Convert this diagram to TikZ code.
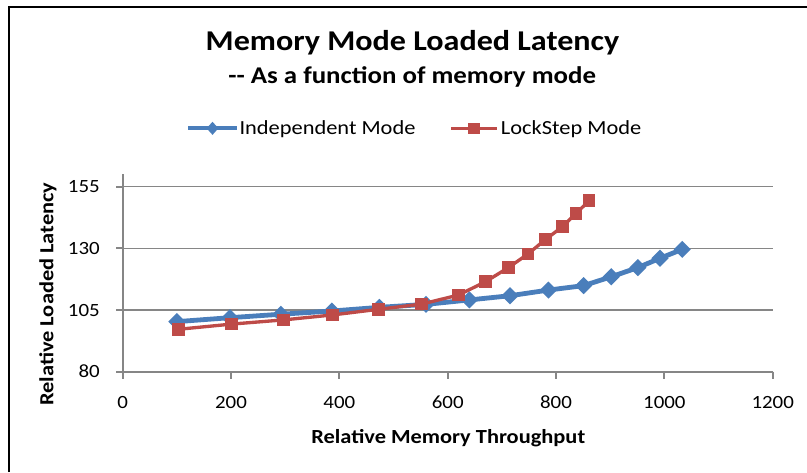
\documentclass[tikz,border=0pt]{standalone}
\usepackage{fontspec}
\setmainfont{Carlito}[FakeStretch=1.12]
\usetikzlibrary{shapes.geometric}

\definecolor{seriesblue}{HTML}{4A7EBB}
\definecolor{seriesred}{HTML}{BE4B48}
\definecolor{axisgray}{HTML}{868686}

\begin{document}
\begin{tikzpicture}[x=0.75pt,y=-0.75pt,
  gridline/.style={draw=axisgray, line width=1pt},
  axisline/.style={draw=axisgray, line width=1.5pt},
  blueline/.style={draw=seriesblue, line width=3.6pt, line join=round, line cap=round},
  redline/.style={draw=seriesred, line width=2.5pt, line join=round, line cap=round},
  bluemark/.style={diamond, fill=seriesblue, inner sep=0pt, minimum width=13pt, minimum height=13pt},
  redmark/.style={rectangle, fill=seriesred, inner sep=0pt, minimum size=9.5pt},
  ticklabel/.style={font=\fontsize{14}{16}\selectfont, inner sep=0pt},
  axistitle/.style={font=\bfseries\fontsize{15}{18}\selectfont, inner sep=0pt},
  legendtext/.style={font=\fontsize{15}{18}\selectfont, inner sep=0pt, anchor=base west},
]
\useasboundingbox (0,0) rectangle (807,472);
\fill[white] (0,0) rectangle (807,472);
% chart frame
\draw[line width=1pt] (9,472) -- (9,7) -- (807,7);

% titles
\node[anchor=base, inner sep=0pt, font=\bfseries\fontsize{21.5}{25}\selectfont] (title) at (412.5,50) {Memory Mode Loaded Latency};
\node[anchor=base, inner sep=0pt, font=\bfseries\fontsize{18}{22}\selectfont] (subtitle) at (412.2,83.5) {-\kern0pt- As a function of memory mode};

% legend
\coordinate (lb1) at (188.3,128.3);
\coordinate (lb2) at (236.7,128.3);
\draw[blueline, line width=3pt, line cap=butt] (lb1) -- (lb2);
\node[bluemark, minimum width=9pt, minimum height=10pt] (lbm) at (212.5,128.3) {};
\node[legendtext] (lbt) at (239.3,134) {Independent Mode};
\coordinate (lr1) at (451,128.3);
\coordinate (lr2) at (496.7,128.3);
\draw[redline, line width=2.3pt, line cap=butt] (lr1) -- (lr2);
\node[redmark, minimum size=8.5pt] (lrm) at (474,128.3) {};
\node[legendtext] (lrt) at (500.7,134) {LockStep Mode};

% axis titles
\node[axistitle, anchor=base] (xtitle) at (448.3,443.3) {Relative Memory Throughput};
\node[axistitle, rotate=90, anchor=base] (ytitle) at (53.3,294.2) {Relative Loaded Latency};

% plot area in data units
\begin{scope}[shift={(122.7,371.7)}, x=0.40625pt, y=1.85pt, shift={(0,-80)}]
  \foreach \v in {105,130,155}
    \draw[gridline] (0,\v) -- (1200,\v);
  \draw[axisline] (0,160) -- (0,80) -- (1200,80);
  \foreach \t in {0,200,...,1200} {
    \draw[axisline] (\t,80) -- ++(0pt,-5.25pt);
    \path (\t,80) ++(0pt,-27.5pt) node[ticklabel, anchor=base] (xt\t) {\t};
  }
  \foreach \v in {80,105,130,155} {
    \draw[axisline] (0,\v) -- ++(-5.25pt,0pt);
    \path (0,\v) ++(-17pt,-4.5pt) node[ticklabel, anchor=base east] (yt\v) {\v};
  }

  % Independent Mode series
  \foreach \px/\py [count=\i] in {100/100.3, 198/101.9, 292/103.3, 386/104.6, 474/106.1,
      560/107.3, 640/109.1, 715/110.8, 786/113.1, 851/114.9, 902/118.5, 951/122.2,
      992/126, 1033/129.6}
    \coordinate (b\i) at (\px,\py);
  \draw[blueline] (b1) \foreach \i in {2,...,14} { -- (b\i) };
  \foreach \i in {1,...,14}
    \node[bluemark] (bm\i) at (b\i) {};

  % LockStep Mode series
  \foreach \px/\py [count=\i] in {103/97.2, 201/99.3, 297/101, 387/103, 472/105.3,
      552/107.4, 620/111.1, 670/116.5, 712/122.2, 748/127.7, 781/133.7, 812/138.8,
      837/144.2, 861/149.3}
    \coordinate (r\i) at (\px,\py);
  \draw[redline] (r1) \foreach \i in {2,...,14} { -- (r\i) };
  \foreach \i in {1,...,14}
    \node[redmark] (rm\i) at (r\i) {};
\end{scope}
\end{tikzpicture}
\end{document}
